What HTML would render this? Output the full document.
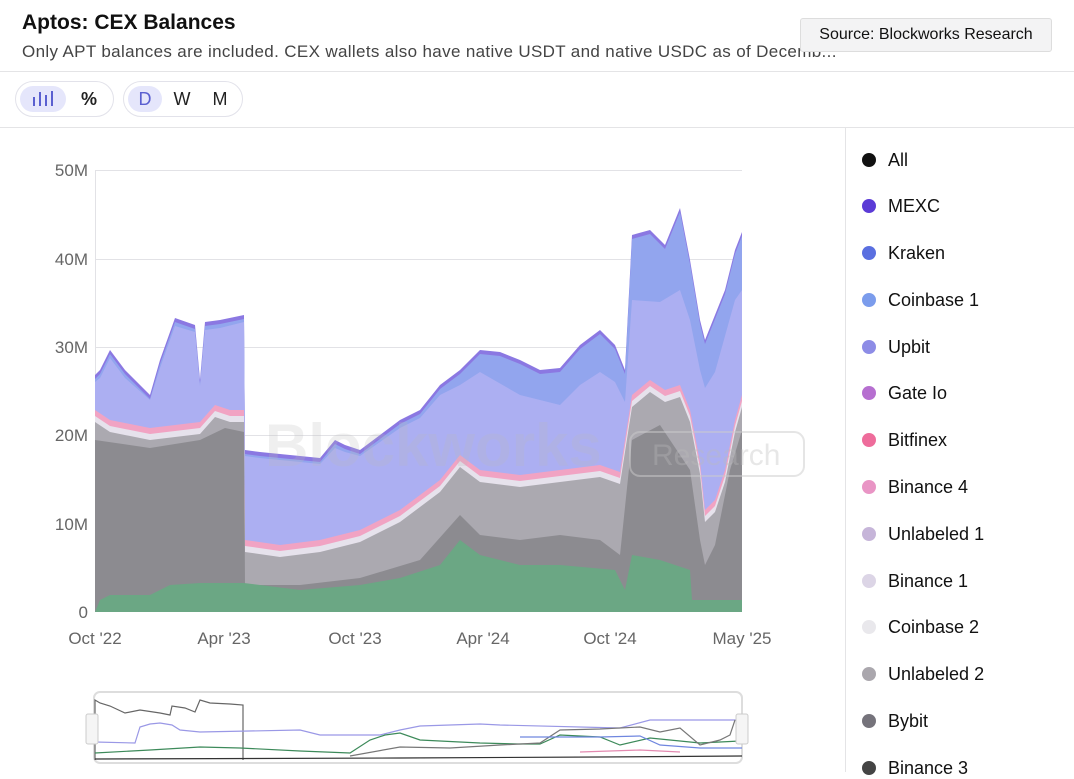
<!DOCTYPE html>
<html><head><meta charset="utf-8"><style>
body{margin:0;width:1074px;height:772px;overflow:hidden;background:#fff;font-family:"Liberation Sans",sans-serif;position:relative}
.t{position:absolute;left:22px;top:11px;font-size:21px;font-weight:bold;color:#111}
.s{position:absolute;left:22px;top:42px;font-size:17px;letter-spacing:0.35px;color:#444;white-space:nowrap}
.src{position:absolute;left:800px;top:18px;width:250px;height:32px;border:1px solid #ddd;background:#f3f3f4;border-radius:3px;font-size:16px;line-height:32px;text-align:center;color:#111}
.hl{position:absolute;left:0;width:1074px;height:1px;background:#e4e4e6}
.pill{position:absolute;top:81px;height:34px;border:1px solid #e2e2ea;border-radius:18px}
.btn{position:absolute;top:86px;height:26px;border-radius:13px;font-size:18px;line-height:26px;text-align:center;color:#222}
.leg{position:absolute;left:862px;font-size:18px;color:#111}
.leg i{display:inline-block;width:14px;height:14px;border-radius:50%;margin-right:12px;vertical-align:-1px}
</style></head><body>
<div class="t">Aptos: CEX Balances</div>
<div class="s">Only APT balances are included. CEX wallets also have native USDT and native USDC as of Decemb...</div>
<div class="src">Source: Blockworks Research</div>
<div class="hl" style="top:71px"></div>
<div class="hl" style="top:127px"></div>
<div class="pill" style="left:15px;width:97px"></div>
<div class="btn" style="left:20px;width:46px;background:#e5e6fb;color:#5a5fd0">
<svg width="24" height="20" viewBox="0 0 24 20" style="vertical-align:-3px"><g fill="#5a5fd0"><rect x="2" y="9" width="2" height="9"/><rect x="8" y="4" width="2" height="14"/><rect x="14" y="7" width="2" height="11"/><rect x="20" y="3" width="2" height="15"/></g></svg></div>
<div class="btn" style="left:72px;width:34px;font-weight:bold">%</div>
<div class="pill" style="left:123px;width:118px"></div>
<div class="btn" style="left:128px;width:34px;background:#e5e6fb;color:#5a5fd0">D</div>
<div class="btn" style="left:166px;width:32px">W</div>
<div class="btn" style="left:204px;width:32px">M</div>
<div style="position:absolute;left:845px;top:128px;width:1px;height:644px;background:#e4e4e6"></div>

<svg width="1074" height="772" style="position:absolute;left:0;top:0">
<g stroke="#e2e2e6" stroke-width="1">
<line x1="95" y1="170.5" x2="742" y2="170.5"/><line x1="95" y1="259.5" x2="742" y2="259.5"/><line x1="95" y1="347.5" x2="742" y2="347.5"/><line x1="95" y1="435.5" x2="742" y2="435.5"/><line x1="95" y1="524.5" x2="742" y2="524.5"/>
<line x1="95.5" y1="170" x2="95.5" y2="612"/>
</g>
<g font-size="17" fill="#666" text-anchor="end" font-family="Liberation Sans">
<text x="88" y="176">50M</text><text x="88" y="265">40M</text><text x="88" y="353">30M</text><text x="88" y="441">20M</text><text x="88" y="530">10M</text><text x="88" y="618">0</text>
</g>
<g font-size="17" fill="#666" text-anchor="middle" font-family="Liberation Sans">
<text x="95" y="644">Oct '22</text><text x="224" y="644">Apr '23</text><text x="355" y="644">Oct '23</text><text x="483" y="644">Apr '24</text><text x="610" y="644">Oct '24</text><text x="742" y="644">May '25</text>
</g>
<g id="layers"></g>
<text x="265" y="466" font-size="60" font-weight="bold" fill="#bbb" opacity="0.22" font-family="Liberation Sans">Blockworks</text>
<rect x="630" y="432" width="174" height="44" rx="10" fill="none" stroke="#ccc" stroke-opacity="0.5" stroke-width="2"/>
<text x="652" y="465" font-size="30" fill="#bbb" opacity="0.35" font-family="Liberation Sans">Research</text>
<rect x="94" y="692" width="648" height="71" rx="6" fill="none" stroke="#ddd" stroke-width="2"/>
<g fill="none" stroke-width="1.2">
<polyline stroke="#666" points="95,760 95,700 100,703 110,706 125,713 140,710 160,713 170,715 172,706 185,708 195,712 200,700 210,703 230,704 243,705 243,760"/>
<polyline stroke="#9a98e6" points="95,742 135,743 140,727 150,724 160,723 172,725 180,730 200,732 300,730 320,735 380,735 400,730 420,726 480,724 500,725 620,728 650,720 700,720 740,720"/>
<polyline stroke="#3d8a5a" points="95,753 150,750 200,747 240,748 300,751 350,753 370,740 385,735 400,733 420,740 480,743 520,744 540,744 560,735 600,737 620,745 650,738 700,743 740,741"/>
<polyline stroke="#777" points="350,756 400,747 450,748 500,745 540,743 560,730 600,729 640,727 660,732 680,728 700,745 720,740 730,735 735,720"/>
<polyline stroke="#6f86df" points="520,737 600,737 640,736 660,745 700,748 742,748"/>
<polyline stroke="#e38ab0" points="580,752 640,750 680,752"/>
<polyline stroke="#333" points="95,759 400,758 600,757 742,756"/>
</g>
<rect x="86" y="714" width="12" height="30" rx="2" fill="#f5f5f5" stroke="#ccc"/>
<rect x="736" y="714" width="12" height="30" rx="2" fill="#f5f5f5" stroke="#ccc"/>
</svg>

<div class="leg" style="top:150px"><i style="background:#111"></i>All</div>
<div class="leg" style="top:196px"><i style="background:#5b3bd6"></i>MEXC</div>
<div class="leg" style="top:243px"><i style="background:#5a6fe0"></i>Kraken</div>
<div class="leg" style="top:290px"><i style="background:#7b9cec"></i>Coinbase 1</div>
<div class="leg" style="top:337px"><i style="background:#8d8ce6"></i>Upbit</div>
<div class="leg" style="top:383px"><i style="background:#b66fd0"></i>Gate Io</div>
<div class="leg" style="top:430px"><i style="background:#ee6c9b"></i>Bitfinex</div>
<div class="leg" style="top:477px"><i style="background:#e995c5"></i>Binance 4</div>
<div class="leg" style="top:524px"><i style="background:#c6b5d9"></i>Unlabeled 1</div>
<div class="leg" style="top:571px"><i style="background:#dcd5e6"></i>Binance 1</div>
<div class="leg" style="top:617px"><i style="background:#e9e8ec"></i>Coinbase 2</div>
<div class="leg" style="top:664px"><i style="background:#aaa7ad"></i>Unlabeled 2</div>
<div class="leg" style="top:711px"><i style="background:#75737b"></i>Bybit</div>
<div class="leg" style="top:758px"><i style="background:#444"></i>Binance 3</div>

<script>
var total=[[95,375],[100,370],[110,350],[125,370],[150,395],[160,360],[175,318],[195,325],[200,380],[205,322],[220,320],[244,315],[245,450],[260,452],[290,455],[320,458],[335,440],[345,445],[360,450],[380,435],[400,420],[420,410],[440,385],[460,370],[480,350],[500,352],[520,360],[540,370],[560,368],[580,345],[600,330],[615,345],[625,370],[632,235],[650,230],[665,245],[680,208],[690,260],[700,320],[705,340],[715,315],[725,290],[735,250],[742,232]];
var upbit=[[95,382],[100,378],[110,358],[125,378],[150,400],[160,368],[175,326],[195,332],[200,386],[205,330],[220,328],[244,322],[245,456],[260,458],[290,461],[320,464],[335,448],[345,452],[360,456],[380,442],[400,428],[420,418],[440,395],[460,385],[480,372],[520,395],[560,405],[580,385],[600,372],[615,382],[625,402],[632,300],[660,302],[680,290],[690,320],[700,370],[705,388],[715,372],[735,300],[742,290]];
var pink=[[95,410],[110,420],[150,428],[200,422],[215,405],[230,410],[244,410],[245,540],[280,545],[320,540],[360,530],[400,510],[440,480],[460,455],[480,470],[520,475],[560,470],[600,465],[620,472],[632,395],[650,380],[665,390],[680,385],[690,410],[700,462],[705,510],[715,500],[725,470],[735,420],[742,395]];
var dark=[[95,440],[150,448],[200,440],[225,428],[244,432],[245,585],[300,585],[360,578],[420,560],[460,515],[480,535],[520,540],[560,535],[600,540],[620,555],[632,440],[660,425],[690,470],[700,540],[705,565],[715,545],[730,470],[742,430]];
var green=[[95,612],[100,600],[110,595],[150,595],[170,585],[200,583],[244,583],[300,590],[360,585],[400,578],[440,565],[460,540],[480,555],[520,565],[560,565],[615,570],[625,590],[632,555],[660,560],[690,570],[692,600],[742,600]];
function off(a,d){return a.map(function(p){return [p[0],p[1]+d]})}
var layers=[[total,"#8b78e2"],[off(total,4),"#92a5ee"],[upbit,"#acaff2"],[pink,"#f1a3c3"],[off(pink,6),"#e6e2ec"],[off(pink,12),"#aba9b0"],[dark,"#8c8b90"],[green,"#6ba784"]];
var g=document.getElementById("layers"),h="";
layers.forEach(function(l){h+='<polygon fill="'+l[1]+'" points="'+l[0].map(function(p){return p.join(",")}).join(" ")+' 742,612 95,612"/>'});
g.innerHTML=h;
</script>
</body></html>
